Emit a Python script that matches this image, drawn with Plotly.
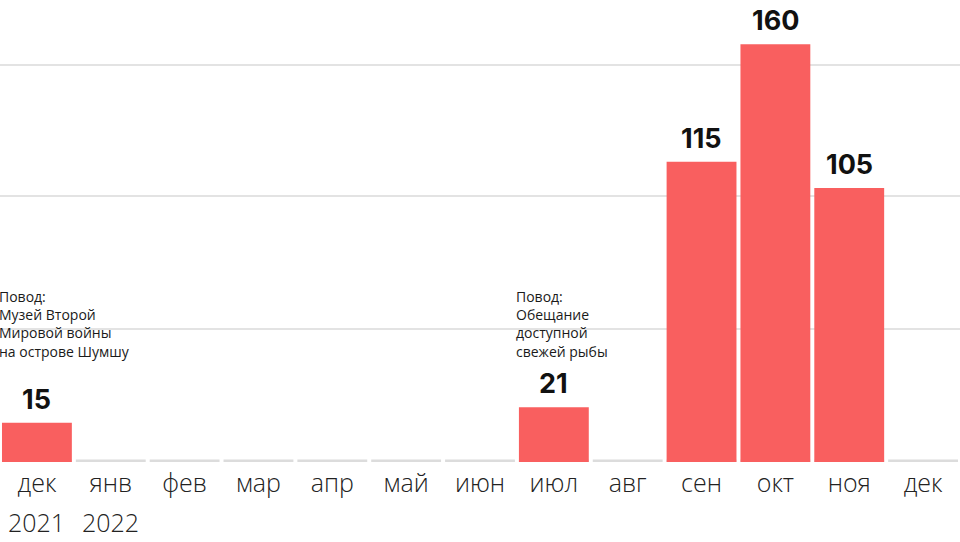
import plotly.graph_objects as go

months = ["дек", "янв", "фев", "мар", "апр", "май", "июн", "июл", "авг", "сен", "окт", "ноя", "дек"]
years = ["2021", "2022", "", "", "", "", "", "", "", "", "", "", ""]
values = [15, 0, 0, 0, 0, 0, 0, 21, 0, 115, 160, 105, 0]
notes = {0: ["Повод:", "Музей Второй", "Мировой войны", "на острове Шумшу"],
         7: ["Повод:", "Обещание", "доступной", "свежей рыбы"]}

RED = "#f95f5f"
GREY_LINE = "#dcdcdc"
LABEL_FONT = "Open Sans"
x = list(range(len(months)))

fig = go.Figure()
fig.add_trace(go.Bar(x=x, y=[1.0] * len(x), marker=dict(color=GREY_LINE, line=dict(width=0)),
                     hoverinfo="skip", showlegend=False))
fig.add_trace(go.Bar(x=x, y=values, marker=dict(color=RED, line=dict(width=0)), showlegend=False))

ann = []
for i, v in enumerate(values):
    if v > 0:
        ann.append(dict(x=i, y=v, xref="x", yref="y", text=str(v), showarrow=False,
                        yanchor="bottom", yshift=5,
                        font=dict(family="Inter", size=27, color="#111", weight=700)))
for i, y in enumerate(years):
    if y:
        ann.append(dict(x=i, y=0, xref="x", yref="paper", text=y, showarrow=False,
                        yanchor="middle", yshift=-60,
                        font=dict(family=LABEL_FONT, size=25, color="#222", weight=300)))
for i, lines in notes.items():
    ann.append(dict(x=i - 0.5, y=67.5, xref="x", yref="y", text="<br>".join(lines),
                    showarrow=False, xanchor="left", yanchor="top", align="left", xshift=-2,
                    borderpad=0,
                    font=dict(family=LABEL_FONT, size=14, color="#1a1a1a", weight=400)))

fig.update_layout(
    width=960, height=542,
    margin=dict(l=0, r=0, t=0, b=80),
    plot_bgcolor="white", paper_bgcolor="white",
    barmode="overlay", bargap=0.054,
    annotations=ann,
    xaxis=dict(tickmode="array", tickvals=x, ticktext=months, range=[-0.5, len(x) - 0.5],
               showgrid=False, zeroline=False, showline=False, ticks="", automargin=False,
               ticklabelstandoff=4,
               tickfont=dict(family=LABEL_FONT, size=25, color="#222", weight=300)),
    yaxis=dict(range=[0, 177], tickvals=[51, 102, 152], showticklabels=False, automargin=False,
               gridcolor="#e3e3e3", gridwidth=2, zeroline=False, showline=False),
)

fig.write_html("out.html", config={"displayModeBar": False},
               post_script="document.body.style.margin='0';")
